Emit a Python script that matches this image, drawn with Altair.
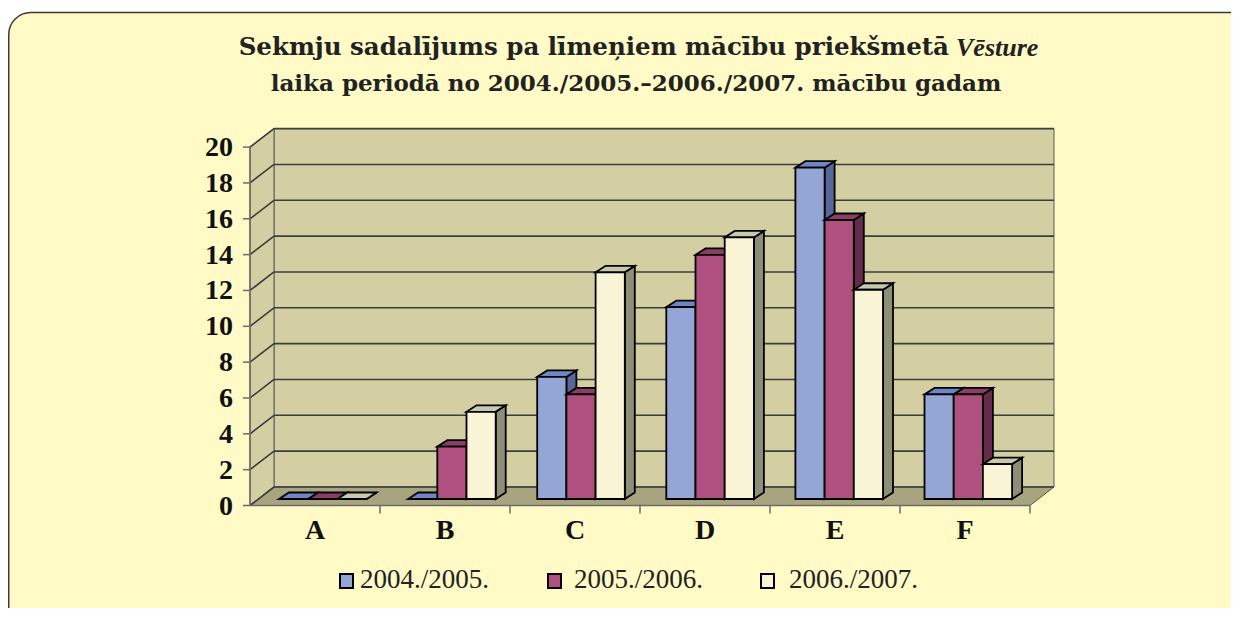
import altair as alt
import pandas as pd

# ---------------- data ----------------
categories = ["A", "B", "C", "D", "E", "F"]
series = ["2004./2005.", "2005./2006.", "2006./2007."]
v0405 = [0, 0, 7, 11, 19, 6]
v0506 = [0, 3, 6, 14, 16, 6]
v0607 = [0, 5, 13, 15, 12, 2]
values = [v0405, v0506, v0607]
y_ticks = [0, 2, 4, 6, 8, 10, 12, 14, 16, 18, 20]

front_col = ["#93A6D6", "#B0507F", "#FAF4D7"]
top_col = ["#6F86C6", "#8B3D66", "#C8C8AE"]
side_col = ["#56689A", "#662B4A", "#8E8E78"]

title1_bold = "Sekmju sadalījums pa līmeņiem mācību priekšmetā"
title1_ital = "Vēsture"
title2 = "laika periodā no 2004./2005.–2006./2007. mācību gadam"

# ---------------- geometry helpers (category units / value units) ----------------
W, H = 1223, 600
def ux(px):
    return (px - 250) / 130 - 0.5
def uy(py):
    return (505.5 - py) / 17.92

XS = alt.Scale(domain=[ux(8), ux(8 + W)], nice=False, zero=False)
YS = alt.Scale(domain=[uy(8 + H), uy(8)], nice=False, zero=False)

XL, XR, YT = -0.5, len(categories) - 0.5, 20
DX, DY = 24 / 130, 18.5 / 17.92

# walls
wall_rows = []
def poly(rows, pid, pts, fill, layer=0):
    for (x, y, y2) in pts:
        rows.append(dict(poly=pid, x=x, y=y, y2=y2, fill=fill, layer=layer))

poly(wall_rows, "back", [(XL + DX, DY, YT + DY), (XR + DX, DY, YT + DY)], "#D4CFA3")
poly(wall_rows, "left", [(XL, 0, YT), (XL + DX, DY, YT + DY)], "#D4CFA3")
poly(wall_rows, "floor", [(XL, 0, 0), (XL + DX, 0, DY), (XR, 0, DY), (XR + DX, DY, DY)], "#A8A47F")
walls = pd.DataFrame(wall_rows)

# gridlines
grid = pd.DataFrame(
    [dict(x=XL + DX, x2=XR + DX, y=g + DY, y2=g + DY) for g in y_ticks]
    + [dict(x=XL, x2=XL + DX, y=g, y2=g + DY) for g in y_ticks]
)

# axes
axis_rows = [dict(x=XL, x2=XL, y=0, y2=YT), dict(x=XL, x2=XR, y=0, y2=0)]
axis_rows += [dict(x=XL - 7 / 130, x2=XL, y=g, y2=g) for g in y_ticks]
axis_rows += [dict(x=i + 0.5, x2=i + 0.5, y=0, y2=-8 / 17.92) for i in range(len(categories))]
axes = pd.DataFrame(axis_rows)

# bars
BW = 29.2 / 130
ddx, ddy = 10 / 130, 6.5 / 17.92
base = uy(499)
bar_rows = []
for s in range(3):
    for ci, cat in enumerate(categories):
        v = values[s][ci]
        xl = ux(279 + 129.1 * ci + 29.2 * s)
        xr = xl + BW
        t = base + v * 0.973
        pid = f"{cat}{s}"
        poly(bar_rows, pid + "side", [(xr, base, t), (xr + ddx, base + ddy, t + ddy)], side_col[s], layer=s * 3)
        poly(bar_rows, pid + "top", [(xl, t, t), (xl + ddx, t, t + ddy), (xr, t, t + ddy), (xr + ddx, t + ddy, t + ddy)], top_col[s], layer=s * 3 + 1)
        poly(bar_rows, pid + "front", [(xl, base, t), (xr, base, t)], front_col[s], layer=s * 3 + 2)
bars = pd.DataFrame(bar_rows)

# ---------------- chart ----------------
def area_layer(df, stroke, sw):
    return alt.Chart(df).mark_area(orient="vertical", stroke=stroke, strokeWidth=sw,
                                   strokeJoin="miter", interpolate="linear").encode(
        x=alt.X("x:Q", scale=XS, axis=None),
        y=alt.Y("y:Q", scale=YS, axis=None, stack=None),
        y2="y2:Q",
        fill=alt.Fill("fill:N", scale=None, legend=None),
        detail="poly:N",
    )

bg = alt.Chart(pd.DataFrame({"a": [0]})).mark_rect(
    cornerRadius=22, fill="#FFFAC6", stroke="#3a3a3a", strokeWidth=1.5
).encode(x=alt.value(0.75), x2=alt.value(1300), y=alt.value(4.5), y2=alt.value(700))

wall_layer = area_layer(walls, "#5a5a5a", 1)

def rule_layer(df, color, sw):
    return alt.Chart(df).mark_rule(color=color, strokeWidth=sw).encode(
        x=alt.X("x:Q", scale=XS, axis=None),
        x2="x2:Q",
        y=alt.Y("y:Q", scale=YS, axis=None),
        y2="y2:Q",
    )

grid_layer = rule_layer(grid, "#3c3c3c", 1.6)
axis_layer = rule_layer(axes, "#6b6b6b", 1.5)

bar_layers = [area_layer(bars[bars.layer == k], "black", 1.8) for k in range(9)]

ylab = alt.Chart(pd.DataFrame({"v": y_ticks, "t": [str(g) for g in y_ticks]})).mark_text(
    align="right", baseline="middle", font="Liberation Serif", fontWeight="bold",
    fontSize=28, color="#111", dy=1
).encode(x=alt.value(225), y=alt.Y("v:Q", scale=YS, axis=None), text="t:N")

xlab = alt.Chart(pd.DataFrame({"c": list(range(len(categories))), "t": categories})).mark_text(
    align="center", baseline="middle", font="Liberation Serif", fontWeight="bold",
    fontSize=28, color="#111"
).encode(x=alt.X("c:Q", scale=XS, axis=None), y=alt.value(523), text="t:N")

leg_sq = [340, 548, 761]
leg_tx = [360, 574, 789]
leg = pd.DataFrame({
    "sx": [ux(p) for p in leg_sq], "sx2": [ux(p + 13) for p in leg_sq],
    "sy": [uy(588)] * 3, "sy2": [uy(574)] * 3,
    "tx": [ux(p) for p in leg_tx], "label": series, "fill": front_col,
})
leg_rect = alt.Chart(leg).mark_rect(stroke="black", strokeWidth=2).encode(
    x=alt.X("sx:Q", scale=XS, axis=None), x2="sx2:Q",
    y=alt.Y("sy:Q", scale=YS, axis=None), y2="sy2:Q",
    fill=alt.Fill("fill:N", scale=None, legend=None),
)
leg_text = alt.Chart(leg).mark_text(
    align="left", baseline="alphabetic", font="Liberation Serif", fontSize=27, color="#222"
).encode(x=alt.X("tx:Q", scale=XS, axis=None), y=alt.Y("sy:Q", scale=YS, axis=None), text="label:N")

one = pd.DataFrame({"a": [0]})
t1a = alt.Chart(one).mark_text(align="right", baseline="middle", font="DejaVu Serif",
                               fontWeight="bold", fontSize=24.5, color="#222").encode(
    x=alt.value(941), y=alt.value(40), text=alt.value(title1_bold))
t1b = alt.Chart(one).mark_text(align="left", baseline="middle", font="Liberation Serif",
                               fontWeight="bold", fontStyle="italic", fontSize=26, color="#222").encode(
    x=alt.value(948), y=alt.value(40), text=alt.value(title1_ital))
t2 = alt.Chart(one).mark_text(align="center", baseline="middle", font="DejaVu Serif",
                              fontWeight="bold", fontSize=23, color="#222").encode(
    x=alt.value(628), y=alt.value(76), text=alt.value(title2))

chart = alt.layer(
    bg, wall_layer, grid_layer, axis_layer, *bar_layers, ylab, xlab, leg_rect, leg_text, t1a, t1b, t2
).properties(
    width=W, height=H, padding=0, autosize="none", background="white"
).configure_view(stroke=None)

chart.save("out.html", embed_options={"renderer": "svg", "actions": False})
